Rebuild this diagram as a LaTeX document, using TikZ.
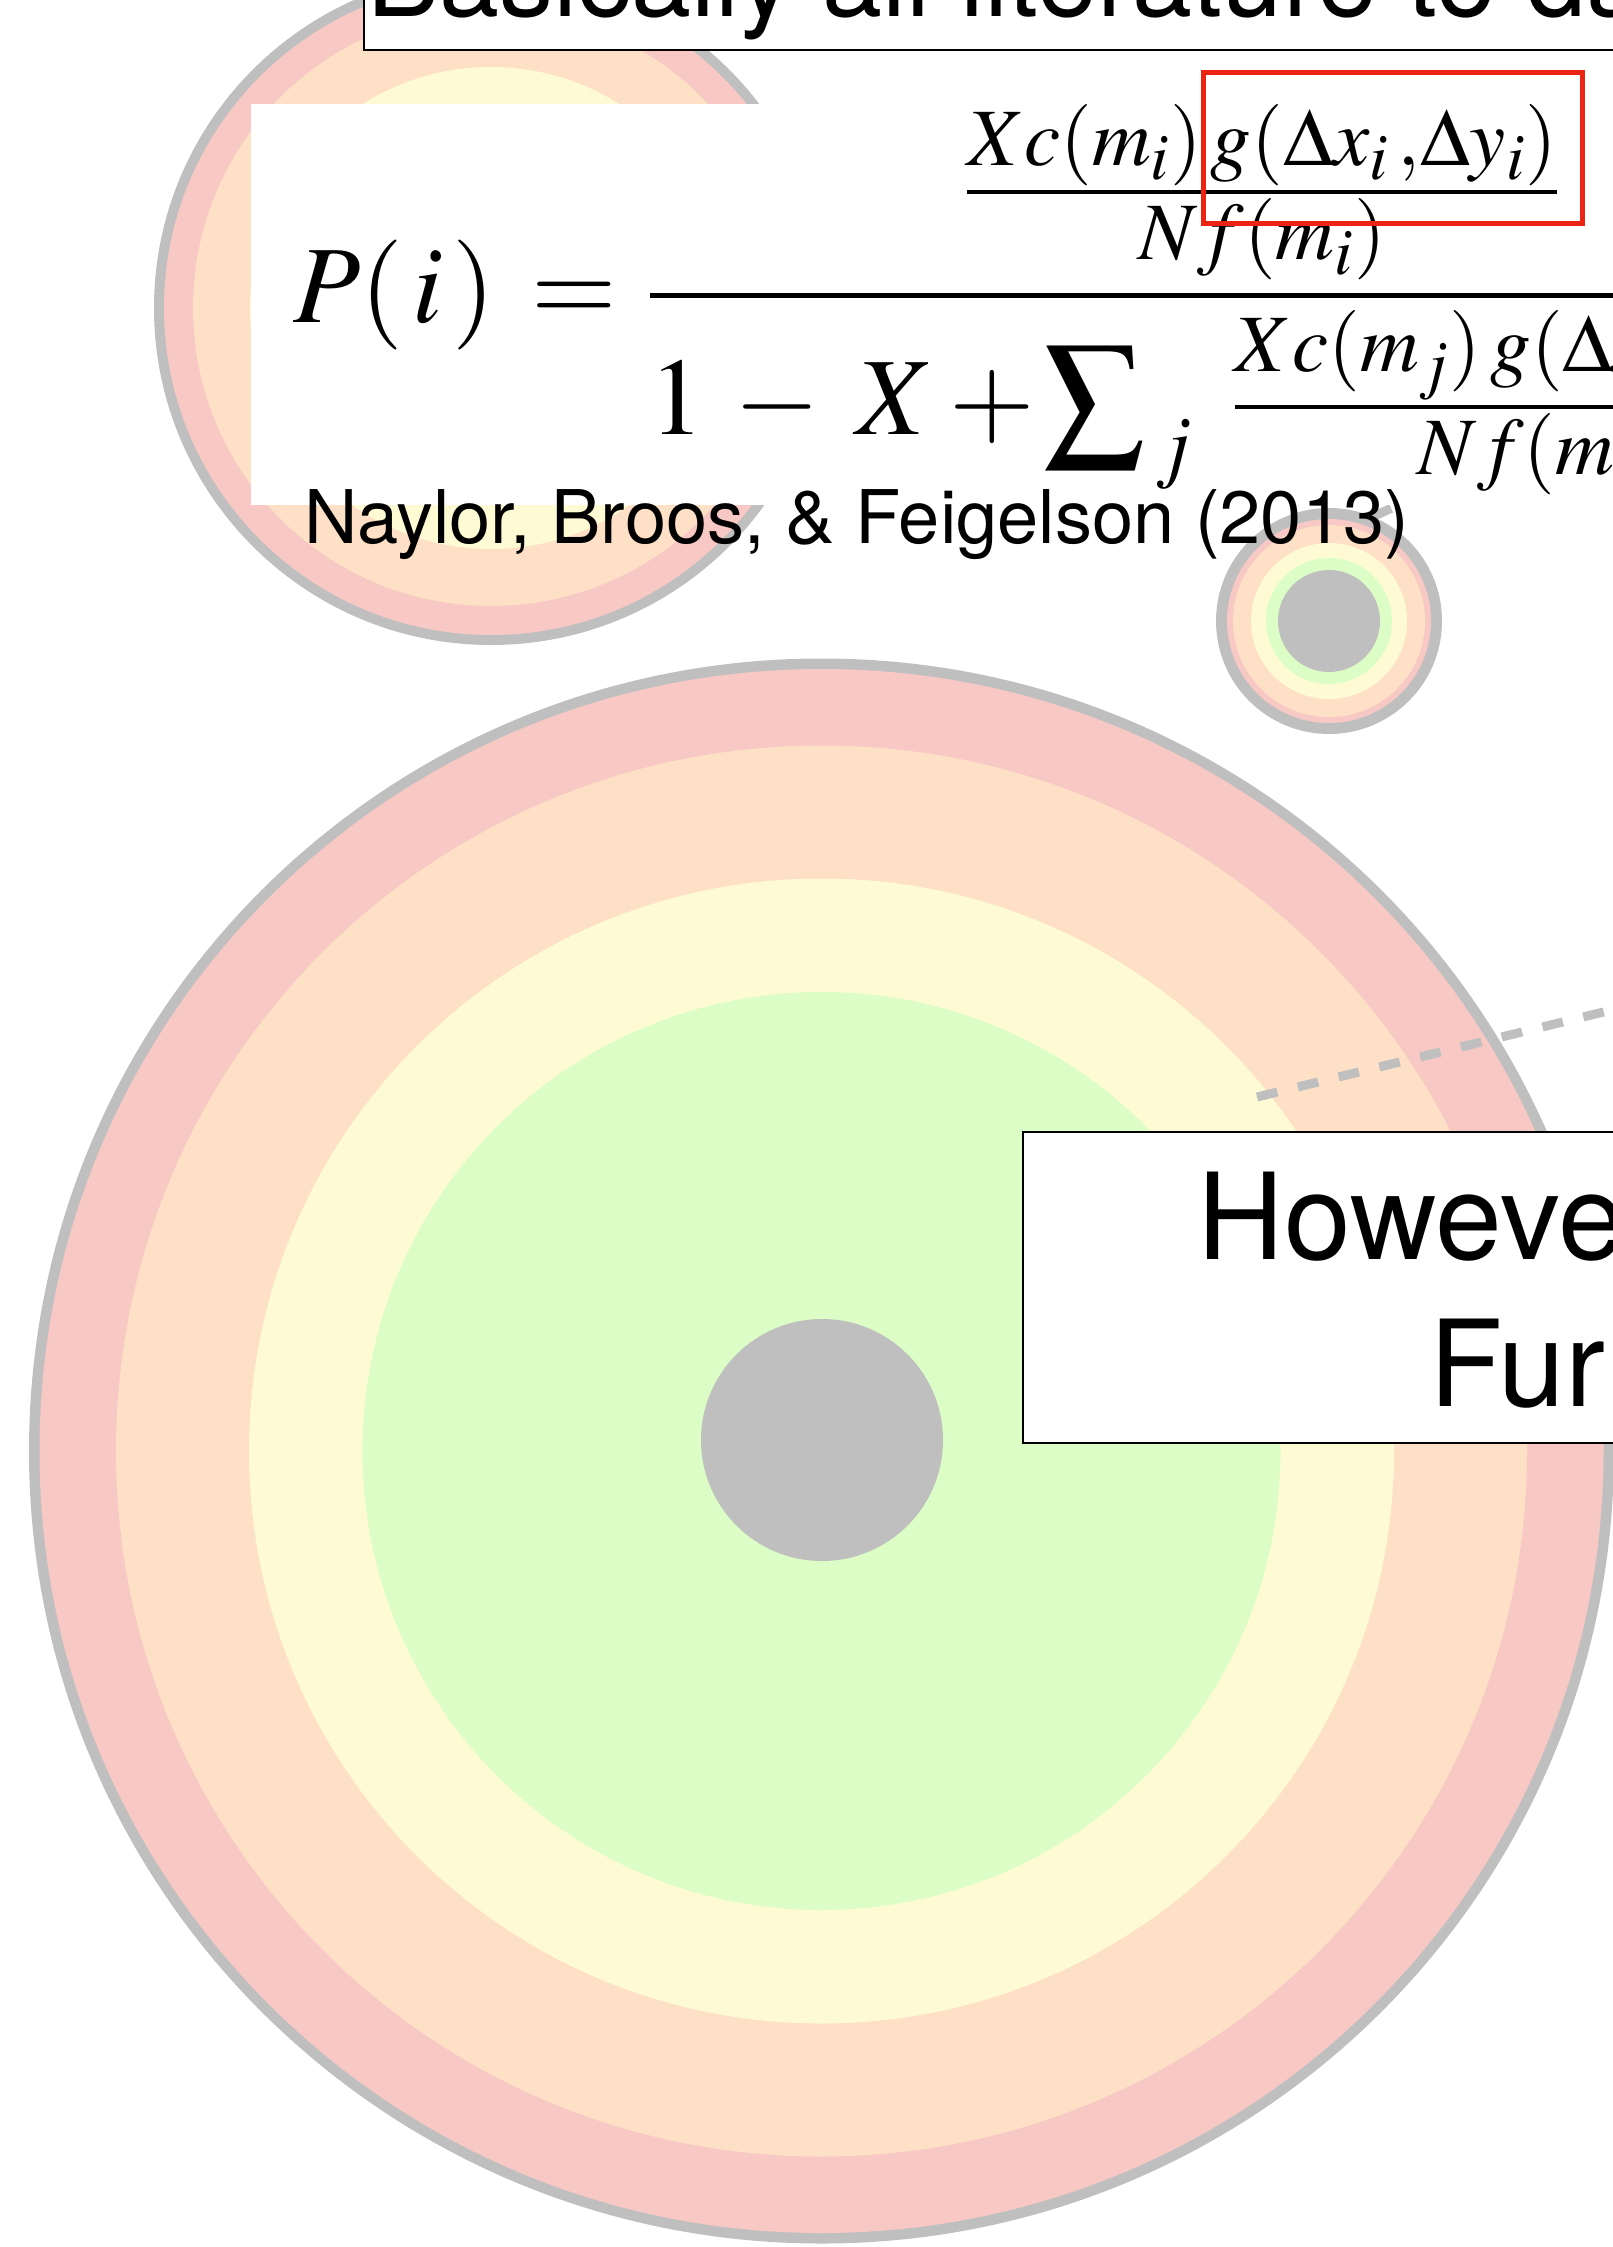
\documentclass[tikz,border=0pt]{standalone}
\usepackage{mathptmx}
\usepackage[no-math]{fontspec}
\newfontfamily\helv{TeX Gyre Heros}
\definecolor{ringgray}{RGB}{191,191,191}
\definecolor{ringpink}{RGB}{247,200,196}
\definecolor{ringpeach}{RGB}{253,224,197}
\definecolor{ringyellow}{RGB}{254,251,212}
\definecolor{ringgreen}{RGB}{220,253,198}
\definecolor{boxred}{RGB}{237,36,20}
\newcommand\bigsum{\mathop{\vcenter{\hbox{\scalebox{1.3}{$\textstyle\sum$}}}}\nolimits}
\tikzset{
  disc/.style={fill=#1, draw=none},
  whitebox/.style={fill=white, draw=black, line width=1.25pt},
  linkdash/.style={draw=ringgray, line width=4.5pt, dash pattern=on 10.5pt off 10.5pt},
  txt/.style={anchor=base west, inner sep=0pt, font=\helv},
}
\begin{document}
\begin{tikzpicture}[x=0.5pt,y=-0.5pt]
\useasboundingbox (0,0) rectangle (1612,2247);
\fill[white] (0,0) rectangle (1612,2247);

% ---- top-left target (mostly hidden)
\begin{scope}[shift={(491,308)}]
  \fill[disc=ringgray]   (0,0) circle[radius=168.5pt];
  \fill[disc=ringpink]   (0,0) circle[radius=163.5pt];
  \fill[disc=ringpeach]  (0,0) circle[radius=149pt];
  \fill[disc=ringyellow] (0,0) circle[radius=120.5pt];
  \fill[disc=ringgreen]  (0,0) circle[radius=97.5pt];
  \fill[disc=ringgray]   (0,-5) circle[radius=25.5pt];
\end{scope}

% ---- small target
\begin{scope}[shift={(1329,621)}]
  \fill[disc=ringgray]   (0,0) circle[radius=56.5pt];
  \fill[disc=ringpink]   (0,0) circle[radius=51pt];
  \fill[disc=ringpeach]  (0,0) circle[radius=48pt];
  \fill[disc=ringyellow] (0,0) circle[radius=39pt];
  \fill[disc=ringgreen]  (0,0) circle[radius=31.5pt];
  \fill[disc=ringgray]   (0,0) circle[radius=25.5pt];
\end{scope}
% dashed connector leaving the small target (mostly hidden by the formula box)
\coordinate (dashC) at (1372,517);
\coordinate (dashD) at (1700,369);
\draw[linkdash] (dashC) -- (dashD);

% ---- top title box
\draw[whitebox] (364,-60) rectangle (1700,50);
\node[txt, font=\helv\fontsize{54}{64}\selectfont] (title) at (367,17) {Basically all literature to da};

% ---- formula box
\fill[white] (251,104) rectangle (1700,505);
\node[anchor=base west, inner sep=0pt] (formula) at (293,323)
  {\fontsize{55}{66}\selectfont $\displaystyle P(\mkern1.5mu i\mkern1.5mu)\mkern2mu = \mkern1mu
   \frac{\raisebox{-2.5pt}[\height][\depth]{$\textstyle\frac{Xc(m_i)\,g(\Delta x_i\,,\Delta y_i)}{Nf(m_i)}$}}
        {1\mkern2.3mu - \mkern3.5mu X + \mkern-1mu\bigsum_{\mkern2mu j}\mkern4.5mu
         \frac{Xc(m_j)\,g(\Delta x_j\,,\Delta y_j)}{Nf(m_j)}\mkern2mu}$};
\draw[boxred, line width=2.5pt] (1203,72.5) rectangle (1582,223.5);

\node[txt, font=\helv\fontsize{37}{44}\selectfont] (cite) at (304,543) {Naylor, Broos, \& Feigelson (2013)};

% ---- big target
\begin{scope}[shift={(821.5,1451)}]
  \fill[disc=ringgray]   (0,0) circle[radius=396.25pt];
  \fill[disc=ringpink]   (0,0) circle[radius=391pt];
  \fill[disc=ringpeach]  (0,0) circle[radius=352.75pt];
  \fill[disc=ringyellow] (0,0) circle[radius=286.25pt];
  \fill[disc=ringgreen]  (0,0) circle[radius=229.5pt];
  \fill[disc=ringgray]   (0.5,-11) circle[radius=60.5pt];
\end{scope}

% ---- dashed connector
\coordinate (dashA) at (1257,1097);
\coordinate (dashB) at (1700,988.3);
\draw[linkdash] (dashA) -- (dashB);

% ---- However box
\draw[whitebox] (1023,1132) rectangle (1700,1443);
\node[txt, font=\helv\fontsize{60}{72}\selectfont] (however) at (1197.5,1259) {Howeve};
\node[txt, font=\helv\fontsize{60}{72}\selectfont] (further) at (1429,1406) {Fur};
\end{tikzpicture}
\end{document}
